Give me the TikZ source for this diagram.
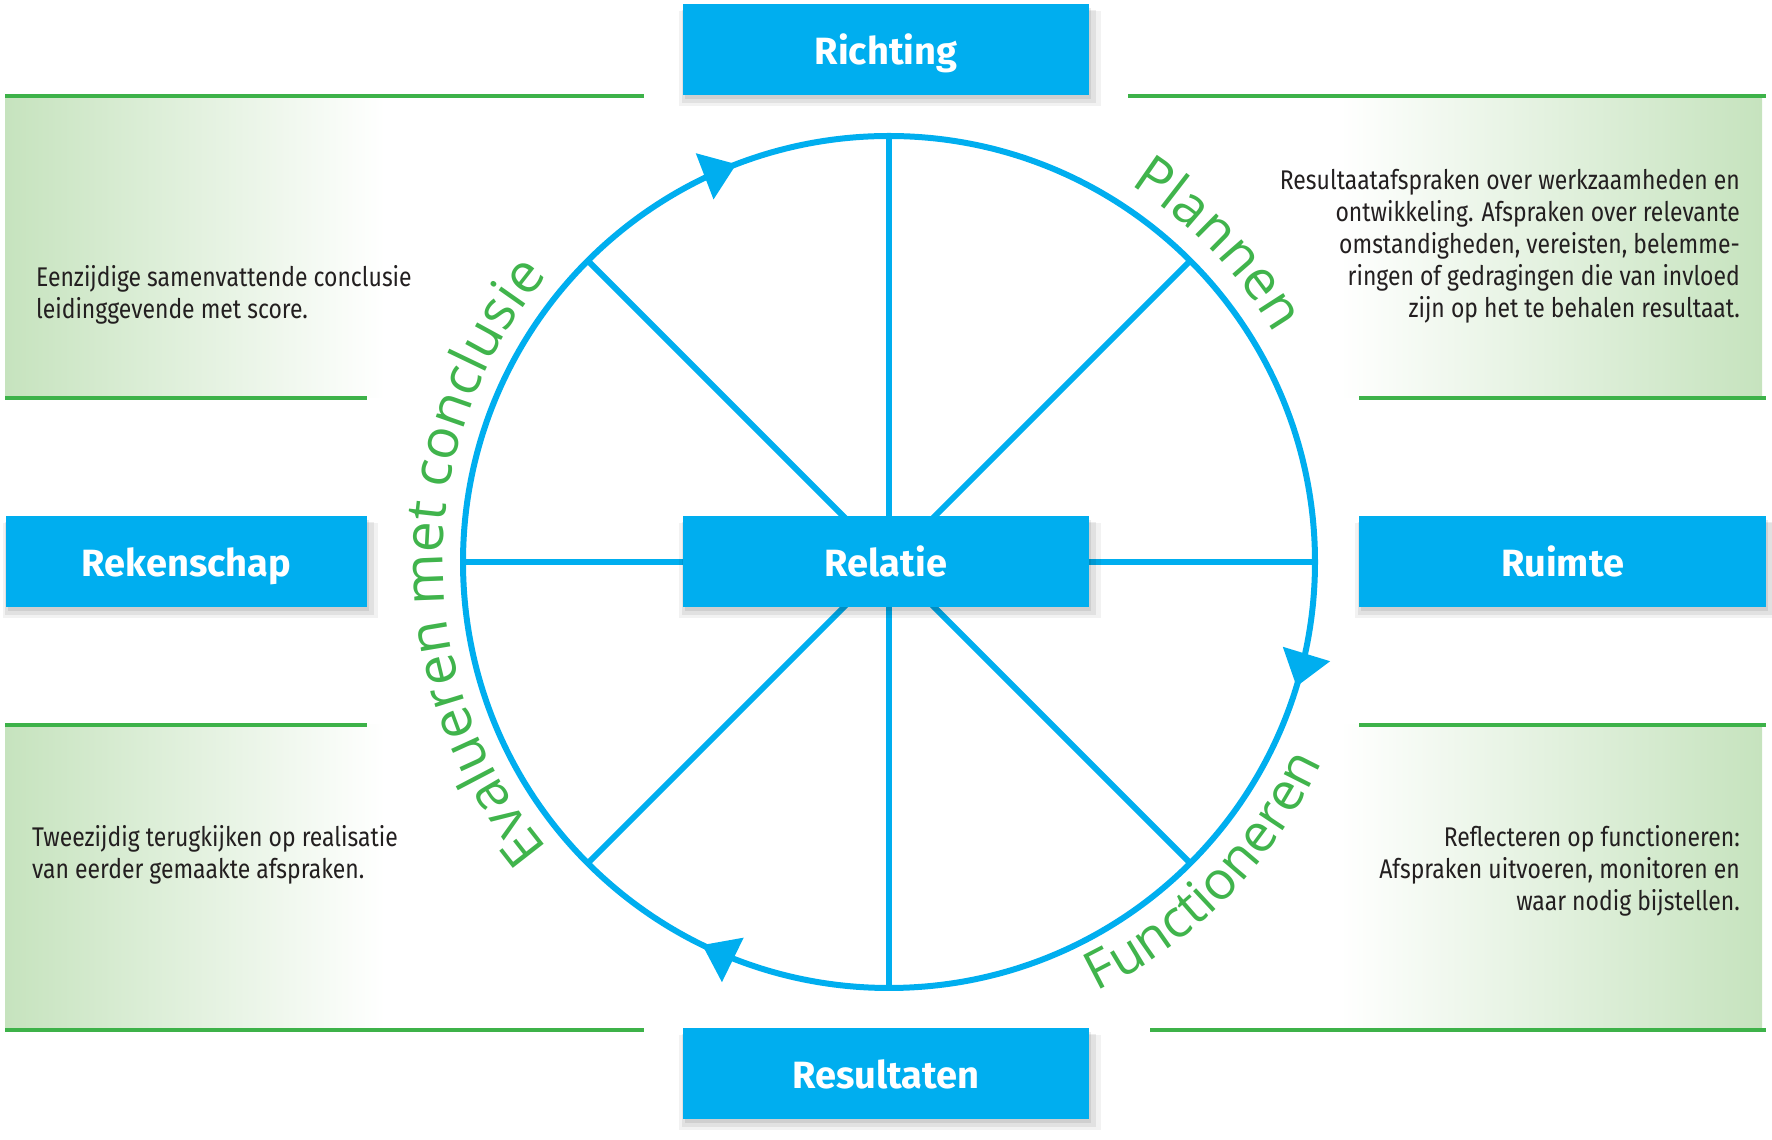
\documentclass[tikz,border=0pt]{standalone}
\usepackage{fontspec}
\setmainfont{Fira Sans}
\newfontfamily\arcfont{Open Sans}
\newfontfamily\smallfont{Fira Sans}[FakeStretch=0.85]
\usetikzlibrary{decorations.text,decorations.markings,arrows.meta,shadows}
\definecolor{cyanbox}{RGB}{0,174,239}
\definecolor{lgreen}{RGB}{61,178,73}
\definecolor{gtext}{RGB}{64,180,76}
\definecolor{gfill}{RGB}{198,227,190}
\definecolor{dtext}{RGB}{35,31,32}
\begin{document}
\begin{tikzpicture}[x=1pt,y=1pt,
  bluebox/.style={fill=cyanbox, text=white, font=\fontsize{38}{42}\selectfont\bfseries,
    minimum height=91pt, inner sep=0pt, text height=30pt, text depth=0pt,
    drop shadow={shadow xshift=4pt,shadow yshift=-8pt,opacity=.05,fill=black,shadow scale=1.04},
    drop shadow={shadow xshift=3pt,shadow yshift=-6pt,opacity=.07,fill=black,shadow scale=1.02},
    drop shadow={shadow xshift=2pt,shadow yshift=-4pt,opacity=.08,fill=black}},
  gl/.style={draw=lgreen, line width=4pt},
  spoke/.style={draw=cyanbox, line width=6pt},
  desc/.style={text=dtext, font=\smallfont\fontsize{27}{32}\selectfont, inner sep=0pt},
  arclabel/.style={decorate, decoration={text along path, text align=center,
    text={|\arcfont\fontsize{55}{60}\selectfont\color{gtext}|#1}}},
  arclabelsmall/.style={decorate, decoration={text along path, text align=center,
    text={|\arcfont\fontsize{53}{58}\selectfont\color{gtext}|#1}}},
]
\useasboundingbox (0,0) rectangle (1772,1140);
\coordinate (C) at (889,578);

% gradient panels
\shade[left color=gfill, right color=white] (5,742) rectangle (385,1044);
\shade[left color=gfill, right color=white] (5,110) rectangle (385,415);
\shade[left color=white, right color=gfill] (1340,742) rectangle (1762,1044);
\shade[left color=white, right color=gfill] (1340,110) rectangle (1762,415);

% green rules
\draw[gl] (5,1044) -- (644,1044);
\draw[gl] (5,742) -- (367,742);
\draw[gl] (1128,1044) -- (1766,1044);
\draw[gl] (1359,742) -- (1766,742);
\draw[gl] (5,415) -- (367,415);
\draw[gl] (1359,415) -- (1766,415);
\draw[gl] (5,110) -- (644,110);
\draw[gl] (1150,110) -- (1766,110);

% spokes
\foreach \a in {0,45,...,315} { \path (C) ++(\a:426) coordinate (s\a); }
\draw[spoke] (s0) -- (s180);
\draw[spoke] (s90) -- (s270);
\draw[spoke] (s45) -- (s225);
\draw[spoke] (s135) -- (s315);

% circle with clockwise arrows
\draw[spoke, postaction={decorate, decoration={markings,
    mark=at position 0.0472 with {\arrow{Triangle[length=34pt,width=48pt]}},
    mark=at position 0.3222 with {\arrow{Triangle[length=34pt,width=48pt]}},
    mark=at position 0.6917 with {\arrow{Triangle[length=34pt,width=48pt]}}}}]
  (s0) arc[start angle=360, end angle=0, radius=426];

% arc labels
\path[arclabel=Plannen] (C) ++(74:448) arc[start angle=74, end angle=14, radius=448];
\path[arclabel={Evalueren met conclusie}] (C) ++(230:446) arc[start angle=230, end angle=130, radius=446];
\path[arclabelsmall=Functioneren] (C) ++(-74.5:477) arc[start angle=-74.5, end angle=-14.5, radius=477];

% boxes
\node[bluebox, minimum width=406pt] (richting) at (886,1090) {Richting};
\node[bluebox, minimum width=406pt] (relatie) at (886,578) {Relatie};
\node[bluebox, minimum width=406pt] (resultaten) at (886,66) {Resultaten};
\node[bluebox, minimum width=361pt] (rekenschap) at (186.5,578) {Rekenschap};
\node[bluebox, minimum width=407pt] (ruimte) at (1562.5,578) {Ruimte};

% descriptions
\node[desc, anchor=west, align=left] (t1) at (36,845)
  {Eenzijdige samenvattende conclusie\\leidinggevende met score.};
\node[desc, anchor=east, align=right] (t2) at (1740,894)
  {Resultaatafspraken over werkzaamheden en\\ontwikkeling. Afspraken over relevante\\omstandigheden, vereisten, belemme-\\ringen of gedragingen die van invloed\\zijn op het te behalen resultaat.};
\node[desc, anchor=west, align=left] (t3) at (32,285.5)
  {Tweezijdig terugkijken op realisatie\\van eerder gemaakte afspraken.};
\node[desc, anchor=east, align=right] (t4) at (1740,269.5)
  {Reflecteren op functioneren:\\Afspraken uitvoeren, monitoren en\\waar nodig bijstellen.};
\end{tikzpicture}
\end{document}
